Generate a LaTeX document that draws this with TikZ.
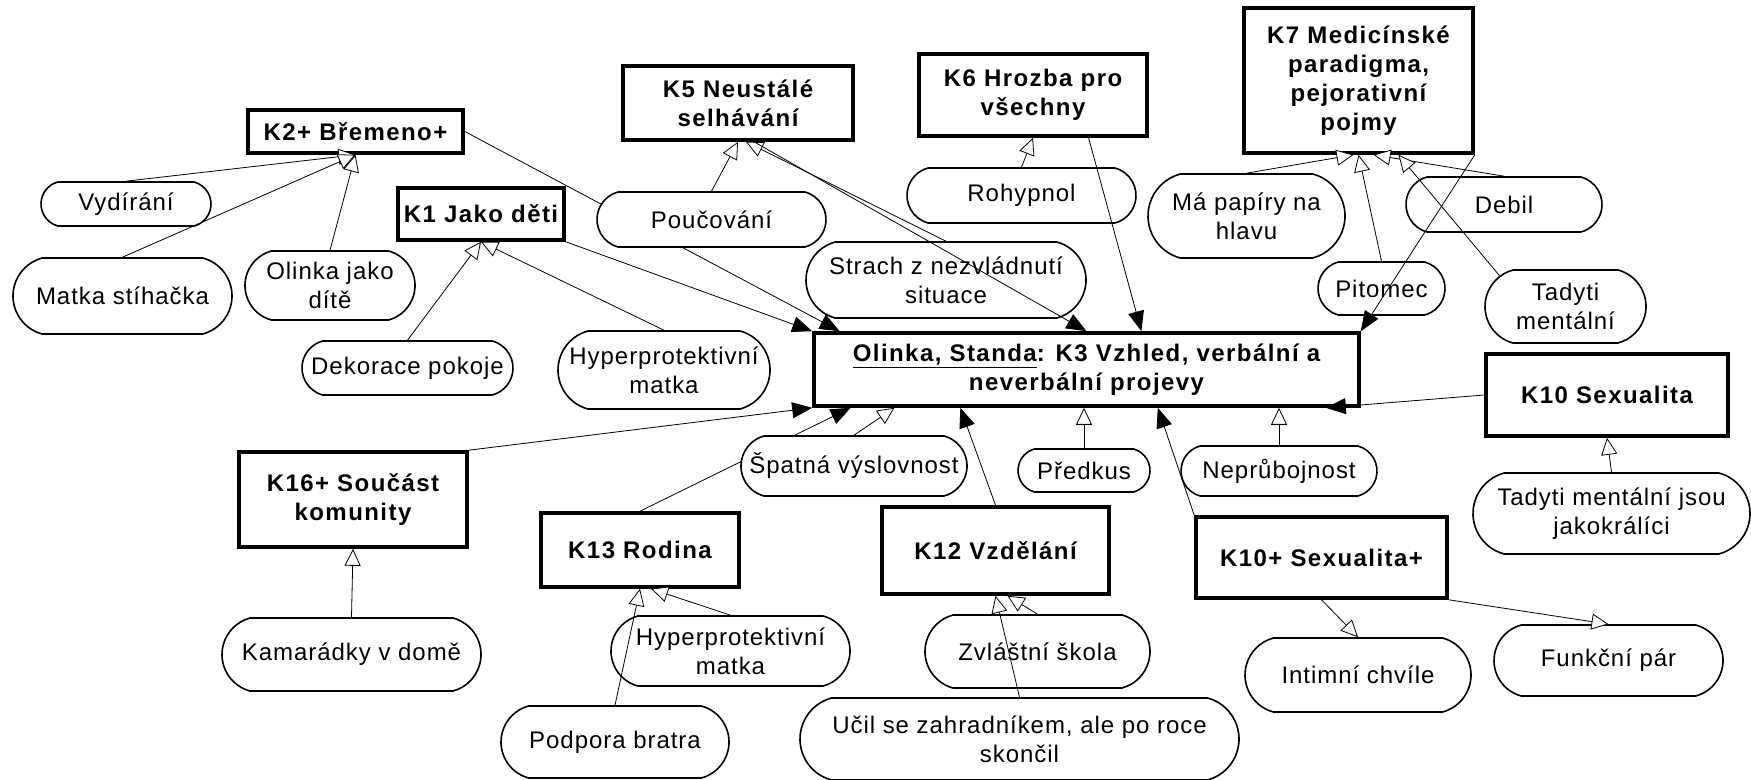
\documentclass[tikz,border=0pt]{standalone}
\usepackage{fontspec}
\setmainfont{Liberation Sans}[LetterSpace=4,BoldFeatures={LetterSpace=6}]
\usepackage{tikz}
\usetikzlibrary{shapes.misc,arrows.meta,calc}
\pgfdeclarelayer{background}
\pgfsetlayers{background,main}

\begin{document}
\fontsize{12}{14.5}\selectfont
\begin{tikzpicture}[x=0.5pt,y=-0.5pt]
		\useasboundingbox (0,0) rectangle (1751,780);
		\begin{scope}
            [
                styleCat/.style 2 args={
					rectangle, draw, line width=1.8pt, fill=white,
					inner sep=0pt, align=center, font=\bfseries,
					minimum width=#1*0.5pt, minimum height=#2*0.5pt
					},
				styleCode/.style 2 args={
					rounded rectangle, rounded rectangle arc length=150,
					draw, line width=0.8pt, fill=white,
					inner sep=0pt, align=center,
					minimum width=#1*0.5pt, minimum height=#2*0.5pt
					},
            ]
			\node(k3)[styleCat={545}{73}] at (1086.5,369.5) {\underline{Olinka, Standa}: K3 Vzhled, verbální a\\neverbální projevy};

			\node(k2)[styleCat={215}{43}] at (355.5,131.5) {K2+ Břemeno+};
			\node(vyd)[styleCode={170}{44}] at (126,204) {Vydírání};
			\node(matka)[styleCode={219}{76}] at (122.5,296) {Matka stíhačka};
			\node(olinka)[styleCode={170}{69}] at (330,285.5) {Olinka jako\\dítě};

			\node(k1)[styleCat={166}{52}] at (481,214) {K1 Jako děti};
			\node(dekor)[styleCode={211}{54}] at (407.5,368) {Dekorace pokoje};
			\node(hypA)[styleCode={212}{78}] at (664,370) {Hyperprotektivní\\matka};

			\node(k5)[styleCat={230}{74}] at (738,103) {K5 Neustálé\\selhávání};
			\node(pouc)[styleCode={229}{55}] at (711.5,219.5) {Poučování};
			\node(strach)[styleCode={280}{76}] at (946,280) {Strach z nezvládnutí\\situace};

			\node(k6)[styleCat={228}{82}] at (1033,95) {K6 Hrozba pro\\všechny};
			\node(rohyp)[styleCode={229}{55}] at (1021.5,195.5) {Rohypnol};

			\node(k7)[styleCat={229}{145}] at (1358.5,80.5) {K7 Medicínské\\paradigma,\\pejorativní\\pojmy};
			\node(papiry)[styleCode={197}{84}] at (1246.5,216) {Má papíry na\\hlavu};
			\node(debil)[styleCode={196}{55}] at (1504,204.5) {Debil};
			\node(pitomec)[styleCode={127}{53}] at (1381.5,288.5) {Pitomec};
			\node(tadyti)[styleCode={161}{73}] at (1565.5,306.5) {Tadyti\\mentální};

			\node(k10)[styleCat={242}{82}] at (1607,395) {K10 Sexualita};
			\node(kralici)[styleCode={277}{81}] at (1611.5,513.5) {Tadyti mentální jsou\\jakokrálíci};

			\node(spatna)[styleCode={226}{60}] at (854,466) {Špatná výslovnost};
			\node(predkus)[styleCode={132}{43}] at (1084,470.5) {Předkus};
			\node(neprub)[styleCode={196}{50}] at (1279,471) {Neprůbojnost};

			\node(k16)[styleCat={228}{95}] at (353,499.5) {K16+ Součást\\komunity};
			\node(kamar)[styleCode={259}{73}] at (351.5,654.5) {Kamarádky v domě};

			\node(k13)[styleCat={198}{74}] at (640,550) {K13 Rodina};
			\node(hypB)[styleCode={239}{70}] at (730.5,651) {Hyperprotektivní\\matka};
			\node(podpora)[styleCode={228}{72}] at (615,742) {Podpora bratra};

			\node(k12)[styleCat={227}{87}] at (995.5,550.5) {K12 Vzdělání};
			\node(zvlast)[styleCode={225}{73}] at (1037.5,651.5) {Zvláštní škola};
			\node(ucil)[styleCode={439}{82}] at (1019.5,739) {Učil se zahradníkem, ale po roce\\skončil};

			\node(k10p)[styleCat={251}{81}] at (1321.5,557.5) {K10+ Sexualita+};
			\node(intim)[styleCode={226}{74}] at (1358,675) {Intimní chvíle};
			\node(funkc)[styleCode={229}{71}] at (1608.5,660.5) {Funkční pár};
		\end{scope}
		\begin{scope}
            [line width=0.8pt,
             styleOpen/.style={-{Triangle[fill=white,length=8.5pt,width=8pt]}},
             styleFull/.style={-{Triangle[length=10pt,width=8pt]}}]
			% these two run under the codes they cross
			\begin{pgfonlayer}{background}
			\path
			(k2.east) edge[styleFull]       ($(k3.north west)!0.05!(k3.north east)$)
			(k13.north) edge[styleFull]     ($(k3.south west)!0.07!(k3.south east)$);
			\end{pgfonlayer}

            \path 
			(vyd.north) edge[styleOpen]     (k2.south)
			(matka.north) edge[styleOpen]   (k2.south)
			(olinka.north) edge[styleOpen]  (k2.south)

			(dekor.north) edge[styleOpen]   (k1.south)
			(hypA.north) edge[styleOpen]    (k1.south)

			(pouc.north) edge[styleOpen]    (k5.south)
			(strach.north) edge[styleOpen]  ($(k5.south)+(8,0)$)
			(rohyp.north) edge[styleOpen]   (k6.south)

			(papiry.north) edge[styleOpen]  ($(k7.south)+(-5,0)$)
			(pitomec.north) edge[styleOpen] (k7.south)
			(debil.north) edge[styleOpen]   ($(k7.south)+(15,0)$)
			(tadyti.155) edge[styleOpen]    ($(k7.south)+(40,0)$)

			(spatna.north) edge[styleOpen]  ($(k3.south west)!0.15!(k3.south east)$)
			(predkus.north) edge[styleOpen] (predkus.north |- k3.south)
			(neprub.north) edge[styleOpen]  (neprub.north |- k3.south)
			(kralici.north) edge[styleOpen] (k10.south)
			(kamar.north) edge[styleOpen]   (k16.south)

			(hypB.north) edge[styleOpen]    ($(k13.south)+(11,0)$)
			(podpora.north) edge[styleOpen] (k13.south)
			(zvlast.north) edge[styleOpen]  ($(k12.south)+(12,0)$)
			(ucil.north) edge[styleOpen]    (k12.south)

			(k10p.south) edge[styleOpen]    (intim.north)
			(k10p.south east) edge[styleOpen] (funkc.north)

			(k1.south east) edge[styleFull] (k3.north west)
			($(k5.south)+(16,0)$) edge[styleFull] (k3.north)
			($(k6.south west)!0.74!(k6.south east)$) edge[styleFull] ($(k3.north west)!0.6!(k3.north east)$)
			(k7.south east) edge[styleFull] (k3.north east)
			(k10.west) edge[styleFull]      ($(k3.south east)+(-35,0)$)
			(k16.north east) edge[styleFull] (k3.south west)
			(k12.north) edge[styleFull]     ($(k3.south west)!0.27!(k3.south east)$)
			(k10p.north west) edge[styleFull] ($(k3.south west)!0.63!(k3.south east)$);
		\end{scope}
    \end{tikzpicture}
\end{document}
